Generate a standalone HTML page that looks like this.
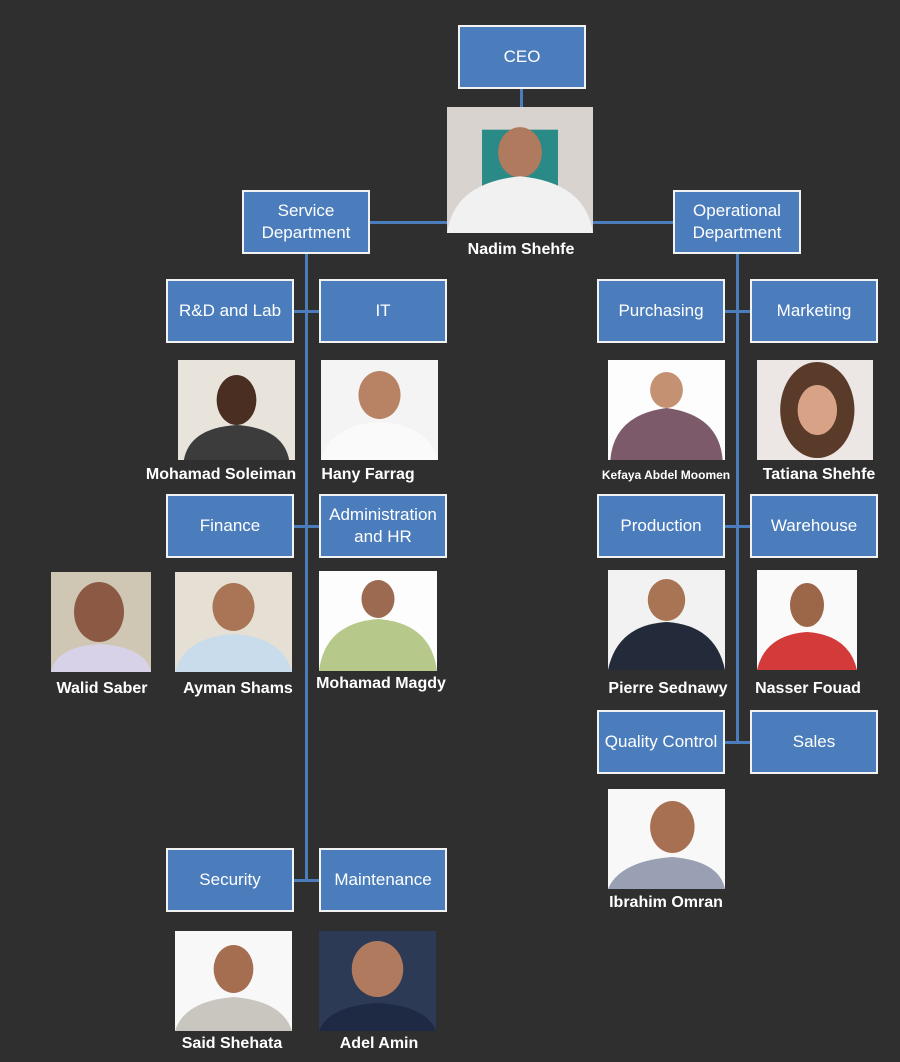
<!DOCTYPE html>
<html><head><meta charset="utf-8">
<style>
html,body{margin:0;padding:0;}
body{width:900px;height:1062px;background:#2f2f2f;position:relative;overflow:hidden;font-family:"Liberation Sans",sans-serif;}
.b{position:absolute;box-sizing:border-box;width:128px;height:64px;background:#4b7dbd;border:2px solid #f2f2f2;color:#fff;font-size:17px;display:flex;align-items:center;justify-content:center;text-align:center;line-height:22px;font-family:"Liberation Sans",sans-serif;white-space:nowrap;}
.l{position:absolute;background:#4b7dbd;}
.p{position:absolute;overflow:hidden;}
.p svg{display:block;width:100%;height:100%;}
.n{position:absolute;color:#fff;font-weight:bold;font-size:16px;text-align:center;width:160px;white-space:nowrap;}
</style></head><body>
<!-- lines -->
<div class="l" style="left:520px;top:89px;width:3px;height:20px"></div>
<div class="l" style="left:370px;top:221px;width:78px;height:3px"></div>
<div class="l" style="left:592px;top:221px;width:82px;height:3px"></div>
<div class="l" style="left:305px;top:254px;width:3px;height:626px"></div>
<div class="l" style="left:294px;top:310px;width:26px;height:3px"></div>
<div class="l" style="left:294px;top:525px;width:26px;height:3px"></div>
<div class="l" style="left:294px;top:879px;width:26px;height:3px"></div>
<div class="l" style="left:736px;top:254px;width:3px;height:489px"></div>
<div class="l" style="left:725px;top:310px;width:26px;height:3px"></div>
<div class="l" style="left:725px;top:525px;width:26px;height:3px"></div>
<div class="l" style="left:725px;top:741px;width:26px;height:3px"></div>

<!-- boxes -->
<div class="b" style="left:458px;top:25px">CEO</div>
<div class="b" style="left:242px;top:190px">Service<br>Department</div>
<div class="b" style="left:673px;top:190px">Operational<br>Department</div>
<div class="b" style="left:166px;top:279px">R&amp;D and Lab</div>
<div class="b" style="left:319px;top:279px">IT</div>
<div class="b" style="left:166px;top:494px">Finance</div>
<div class="b" style="left:319px;top:494px">Administration<br>and HR</div>
<div class="b" style="left:166px;top:848px">Security</div>
<div class="b" style="left:319px;top:848px">Maintenance</div>
<div class="b" style="left:597px;top:279px">Purchasing</div>
<div class="b" style="left:750px;top:279px">Marketing</div>
<div class="b" style="left:597px;top:494px">Production</div>
<div class="b" style="left:750px;top:494px">Warehouse</div>
<div class="b" style="left:597px;top:710px">Quality Control</div>
<div class="b" style="left:750px;top:710px">Sales</div>

<!-- photos -->
<div class="p" style="left:447px;top:107px;width:146px;height:126px"><svg viewBox="0 0 100 100" preserveAspectRatio="none"><rect width="100" height="100" fill="#d9d3d0"/><rect x="24" y="18" width="52" height="45" fill="#2a8a86"/><ellipse cx="50" cy="36" rx="15" ry="20" fill="#b07a5e"/><path d="M0 100 Q5 60 50 55 Q95 60 100 100Z" fill="#f1f1f1"/></svg></div>
<div class="p" style="left:178px;top:360px;width:117px;height:100px"><svg viewBox="0 0 100 100" preserveAspectRatio="none"><rect width="100" height="100" fill="#e8e4dc"/><ellipse cx="50" cy="40" rx="17" ry="25" fill="#4a2e22"/><path d="M5 100 Q10 68 50 65 Q90 68 95 100Z" fill="#3c3c3c"/></svg></div>
<div class="p" style="left:321px;top:360px;width:117px;height:100px"><svg viewBox="0 0 100 100" preserveAspectRatio="none"><rect width="100" height="100" fill="#f4f4f4"/><ellipse cx="50" cy="35" rx="18" ry="24" fill="#b88364"/><path d="M0 100 Q8 65 50 62 Q92 65 100 100Z" fill="#fafafa"/></svg></div>
<div class="p" style="left:51px;top:572px;width:100px;height:100px"><svg viewBox="0 0 100 100" preserveAspectRatio="none"><rect width="100" height="100" fill="#cfc6b4"/><ellipse cx="48" cy="40" rx="25" ry="30" fill="#8c5a44"/><path d="M0 100 Q5 75 48 72 Q95 75 100 100Z" fill="#d8d2e8"/></svg></div>
<div class="p" style="left:175px;top:572px;width:117px;height:100px"><svg viewBox="0 0 100 100" preserveAspectRatio="none"><rect width="100" height="100" fill="#e6e0d4"/><ellipse cx="50" cy="35" rx="18" ry="24" fill="#a97556"/><path d="M0 100 Q8 65 50 62 Q92 65 100 100Z" fill="#c8dcec"/></svg></div>
<div class="p" style="left:319px;top:571px;width:118px;height:100px"><svg viewBox="0 0 100 100" preserveAspectRatio="none"><rect width="100" height="100" fill="#fdfdfd"/><ellipse cx="50" cy="28" rx="14" ry="19" fill="#9b6a50"/><path d="M0 100 Q5 52 50 48 Q95 52 100 100Z" fill="#b7c98a"/></svg></div>
<div class="p" style="left:175px;top:931px;width:117px;height:100px"><svg viewBox="0 0 100 100" preserveAspectRatio="none"><rect width="100" height="100" fill="#f8f8f8"/><ellipse cx="50" cy="38" rx="17" ry="24" fill="#a66e50"/><path d="M0 100 Q8 70 50 66 Q92 70 100 100Z" fill="#c9c6c0"/></svg></div>
<div class="p" style="left:319px;top:931px;width:117px;height:100px"><svg viewBox="0 0 100 100" preserveAspectRatio="none"><rect width="100" height="100" fill="#2d3a55"/><ellipse cx="50" cy="38" rx="22" ry="28" fill="#b07a5e"/><path d="M0 100 Q8 75 50 72 Q92 75 100 100Z" fill="#1e2a44"/></svg></div>
<div class="p" style="left:608px;top:360px;width:117px;height:100px"><svg viewBox="0 0 100 100" preserveAspectRatio="none"><rect width="100" height="100" fill="#fdfdfd"/><ellipse cx="50" cy="30" rx="14" ry="18" fill="#c49272"/><path d="M2 100 Q5 55 50 48 Q95 55 98 100Z" fill="#7d5a6a"/></svg></div>
<div class="p" style="left:757px;top:360px;width:116px;height:100px"><svg viewBox="0 0 100 100" preserveAspectRatio="none"><rect width="100" height="100" fill="#ece6e4"/><ellipse cx="52" cy="50" rx="32" ry="48" fill="#5a3a28"/><ellipse cx="52" cy="50" rx="17" ry="25" fill="#d8a286"/></svg></div>
<div class="p" style="left:608px;top:570px;width:117px;height:100px"><svg viewBox="0 0 100 100" preserveAspectRatio="none"><rect width="100" height="100" fill="#f2f2f2"/><ellipse cx="50" cy="30" rx="16" ry="21" fill="#a87454"/><path d="M0 100 Q8 55 50 52 Q92 55 100 100Z" fill="#232a3a"/></svg></div>
<div class="p" style="left:757px;top:570px;width:100px;height:100px"><svg viewBox="0 0 100 100" preserveAspectRatio="none"><rect width="100" height="100" fill="#fafafa"/><ellipse cx="50" cy="35" rx="17" ry="22" fill="#9c6648"/><path d="M0 100 Q8 65 50 62 Q92 65 100 100Z" fill="#d33a3a"/></svg></div>
<div class="p" style="left:608px;top:789px;width:117px;height:100px"><svg viewBox="0 0 100 100" preserveAspectRatio="none"><rect width="100" height="100" fill="#f8f8f8"/><ellipse cx="55" cy="38" rx="19" ry="26" fill="#a87052"/><path d="M0 100 Q10 72 55 68 Q95 72 100 100Z" fill="#9aa0b4"/></svg></div>

<!-- names -->
<div class="n" style="left:441px;top:241px">Nadim Shehfe</div>
<div class="n" style="left:141px;top:466px">Mohamad Soleiman</div>
<div class="n" style="left:288px;top:466px">Hany Farrag</div>
<div class="n" style="left:22px;top:680px">Walid Saber</div>
<div class="n" style="left:158px;top:680px">Ayman Shams</div>
<div class="n" style="left:301px;top:675px">Mohamad Magdy</div>
<div class="n" style="left:152px;top:1035px">Said Shehata</div>
<div class="n" style="left:299px;top:1035px">Adel Amin</div>
<div class="n" style="left:586px;top:468px;font-size:12px">Kefaya Abdel Moomen</div>
<div class="n" style="left:739px;top:466px">Tatiana Shehfe</div>
<div class="n" style="left:588px;top:680px">Pierre Sednawy</div>
<div class="n" style="left:728px;top:680px">Nasser Fouad</div>
<div class="n" style="left:586px;top:894px">Ibrahim Omran</div>
</body></html>
